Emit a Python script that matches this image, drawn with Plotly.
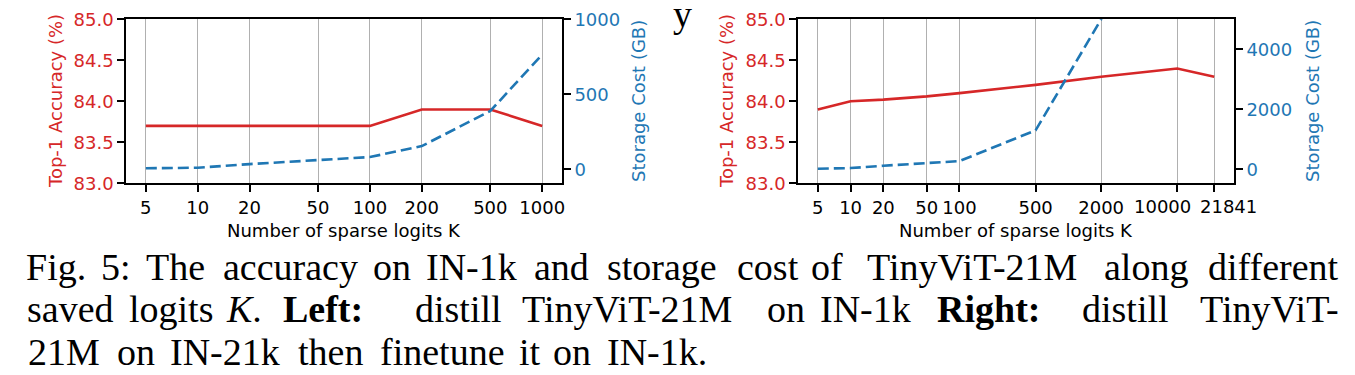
import math
import plotly.graph_objects as go

# ---------------- data ----------------
k_left = [5, 10, 20, 50, 100, 200, 500, 1000]
acc_left = [83.7, 83.7, 83.7, 83.7, 83.7, 83.9, 83.9, 83.7]
storage_left = [7, 11, 35, 60, 82, 155, 389, 765]

k_right = [5, 10, 20, 50, 100, 500, 2000, 10000, 21841]
acc_right = [83.9, 84.0, 84.02, 84.06, 84.1, 84.2, 84.3, 84.4, 84.3]
storage_right = [20, 43, 120, 200, 275, 1300, 5000, 26000, 57000]

acc_ticks = [83.0, 83.5, 84.0, 84.5, 85.0]
store_ticks_left = [0, 500, 1000]
store_ticks_right = [0, 2000, 4000]

x_title = "Number of sparse logits K"
acc_title = "Top-1 Accuracy (%)"
store_title = "Storage Cost (GB)"

caption_words_1 = ["Fig.", "5:", "The", "accuracy", "on", "IN-1k", "and", "storage",
                   "cost", "of", "TinyViT-21M", "along", "different"]
caption_words_2 = ["saved", "logits", "<i>K</i>.", "<b>Left:</b>", "distill", "TinyViT-21M",
                   "on", "IN-1k", "<b>Right:</b>", "distill", "TinyViT-"]
caption_words_3 = ["21M", "on", "IN-21k", "then", "finetune", "it", "on", "IN-1k."]

# ---------------- layout / style ----------------
W, H = 1355, 375
OFF = 8  # default page margin of the html body
RED = "#d62728"
BLUE = "#1f77b4"
SANS = "DejaVu Sans"
SERIF = "Liberation Serif"

# centres (px) of the justified caption words; first word left-anchored,
# last word of justified lines right-anchored
caption_x_1 = [25, 116, 175, 290, 392, 471, 561, 662, 768, 827, 972, 1146, 1340]
caption_x_2 = [26, 171, 244, 323, 458, 627, 786, 865, 988, 1125, 1340]
caption_x_3 = [27, 136, 225, 330, 442, 530, 572, 657]
caption_y = [267, 309, 352]   # vertical centres of the caption lines (px)
CAP_SIZE = 38

# the last two tick labels of the right panel are pushed apart in the reference
shifted_labels = {10000: -15, 21841: 14}
TICK_LABEL_Y = 206.5


def px(x):
    return (x - OFF) / W


def py(y):
    return 1 - (y - OFF) / H


y_dom = [py(183.3), py(19.3)]
left_dom = [px(126), px(562)]
right_dom = [px(798), px(1234)]

fig = go.Figure()
fig.add_trace(go.Scatter(x=k_left, y=acc_left, mode="lines", xaxis="x", yaxis="y",
                         line=dict(color=RED, width=2.6), showlegend=False))
fig.add_trace(go.Scatter(x=k_left, y=storage_left, mode="lines", xaxis="x", yaxis="y2",
                         line=dict(color=BLUE, width=2.6, dash="11px,5px"), showlegend=False))
fig.add_trace(go.Scatter(x=k_right, y=acc_right, mode="lines", xaxis="x2", yaxis="y3",
                         line=dict(color=RED, width=2.6), showlegend=False))
fig.add_trace(go.Scatter(x=k_right, y=storage_right, mode="lines", xaxis="x2", yaxis="y4",
                         line=dict(color=BLUE, width=2.6, dash="11px,5px"), showlegend=False))

common_x = dict(type="log", showgrid=True, gridcolor="#b0b0b0", gridwidth=1.3,
                showline=True, linecolor="black", linewidth=1.6, mirror=True,
                ticks="outside", ticklen=7, tickwidth=1.5, tickcolor="black", tickangle=0,
                tickfont=dict(family=SANS, size=18, color="black"), zeroline=False,
                automargin=False)
common_y = dict(showgrid=False, showline=True, linecolor="black", linewidth=1.6,
                ticks="outside", ticklen=7, tickwidth=1.5, tickcolor="black", zeroline=False,
                automargin=False)

fig.update_layout(
    width=W, height=H, margin=dict(l=0, r=0, t=0, b=0, autoexpand=False),
    paper_bgcolor="white", plot_bgcolor="white", showlegend=False,
    xaxis=dict(common_x, domain=left_dom, anchor="y", range=[0.584, 3.115],
               tickvals=k_left, ticktext=[str(v) for v in k_left]),
    xaxis2=dict(common_x, domain=right_dom, anchor="y3", range=[0.517, 4.521],
                tickvals=k_right,
                ticktext=["" if v in shifted_labels else str(v) for v in k_right]),
    yaxis=dict(common_y, domain=y_dom, anchor="x", side="left", range=[83, 85],
               tickvals=acc_ticks, ticktext=[f"{v:.1f}" for v in acc_ticks],
               tickfont=dict(family=SANS, size=18, color=RED)),
    yaxis2=dict(common_y, overlaying="y", anchor="x", side="right", range=[-93, 1000],
                tickvals=store_ticks_left, tickfont=dict(family=SANS, size=18, color=BLUE)),
    yaxis3=dict(common_y, domain=y_dom, anchor="x2", side="left", range=[83, 85],
                tickvals=acc_ticks, ticktext=[f"{v:.1f}" for v in acc_ticks],
                tickfont=dict(family=SANS, size=18, color=RED)),
    yaxis4=dict(common_y, overlaying="y3", anchor="x2", side="right", range=[-465, 5000],
                tickvals=store_ticks_right, tickfont=dict(family=SANS, size=18, color=BLUE)),
)

ann = []


def add_text(text, x, y, size, color="black", family=SANS, xanchor="center",
             yanchor="middle", angle=0):
    ann.append(dict(text=text, x=px(x), y=py(y), xref="paper", yref="paper",
                    showarrow=False, xanchor=xanchor, yanchor=yanchor, textangle=angle,
                    borderpad=0, font=dict(family=family, size=size, color=color)))


# shifted tick labels placed on the log axis of the right panel
for v, shift in shifted_labels.items():
    ann.append(dict(text=str(v), x=math.log10(v), xref="x2", y=py(TICK_LABEL_Y),
                    yref="paper", xshift=shift, showarrow=False, xanchor="center",
                    yanchor="middle", borderpad=0,
                    font=dict(family=SANS, size=18, color="black")))

# axis titles
add_text(acc_title, 55, 101, 18, RED, angle=-90)
add_text(store_title, 638, 101, 18, BLUE, angle=-90)
add_text(acc_title, 726, 101, 18, RED, angle=-90)
add_text(store_title, 1312, 101, 18, BLUE, angle=-90)
add_text(x_title, 344, 230, 18)
add_text(x_title, 1016, 230, 18)

# stray glyph from the page above
add_text("y", 672, 14, CAP_SIZE, family=SERIF, xanchor="left")

# caption (justified, word by word)
for words, xs, yc, justified in [(caption_words_1, caption_x_1, caption_y[0], True),
                                 (caption_words_2, caption_x_2, caption_y[1], True),
                                 (caption_words_3, caption_x_3, caption_y[2], False)]:
    n = len(words)
    for i, (w, x) in enumerate(zip(words, xs)):
        if i == 0:
            anchor = "left"
        elif i == n - 1 and justified:
            anchor = "right"
        else:
            anchor = "center"
        add_text(w, x, yc, CAP_SIZE, family=SERIF, xanchor=anchor)

fig.update_layout(annotations=ann)
fig.write_html("out.html")
